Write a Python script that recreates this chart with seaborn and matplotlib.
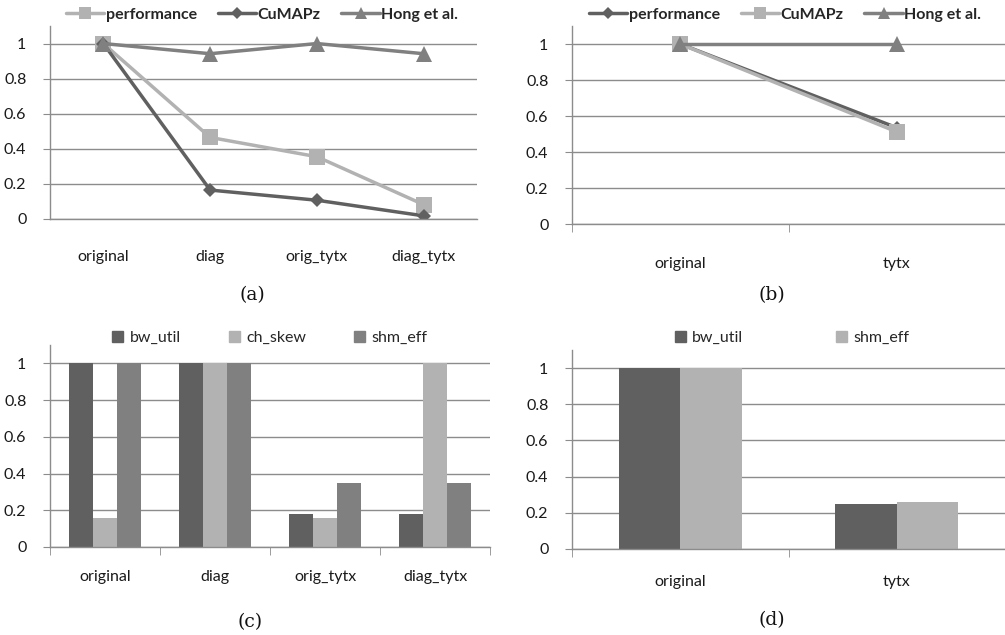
import pandas as pd
import seaborn as sns
import matplotlib.pyplot as plt
from matplotlib.lines import Line2D

# data
cats_a = ['original', 'diag', 'orig_tytx', 'diag_tytx']
perf_a = [1.0, 0.465, 0.355, 0.082]
cumapz_a = [1.0, 0.165, 0.107, 0.018]
hong_a = [1.0, 0.942, 1.0, 0.942]

cats_b = ['original', 'tytx']
perf_b = [1.0, 0.535]
cumapz_b = [1.0, 0.512]
hong_b = [1.0, 1.0]

cats_c = ['original', 'diag', 'orig_tytx', 'diag_tytx']
bw_util_c = [1.0, 1.0, 0.18, 0.18]
ch_skew_c = [0.16, 1.0, 0.16, 1.0]
shm_eff_c = [1.0, 1.0, 0.35, 0.35]

cats_d = ['original', 'tytx']
bw_util_d = [1.0, 0.25]
shm_eff_d = [1.0, 0.26]

DARK = '#606060'
LIGHT = '#b2b2b2'
MID = '#808080'
GRID = '#8c8c8c'
FS = 11.5

sns.set_style('white')
plt.rcParams['font.family'] = ['Lato', 'DejaVu Sans']

W, H = 1005, 635
fig = plt.figure(figsize=(W / 100, H / 100), dpi=100)


def px_axes(x0, y_top, x1, y_bot):
    return fig.add_axes([x0 / W, 1 - y_bot / H, (x1 - x0) / W, (y_bot - y_top) / H])


def style(ax):
    ax.set_ylim(0, 1.1)
    ax.set_yticks([0, 0.2, 0.4, 0.6, 0.8, 1])
    ax.set_yticklabels(['0', '0.2', '0.4', '0.6', '0.8', '1'])
    ax.yaxis.grid(True, color=GRID, linewidth=1)
    ax.set_axisbelow(True)
    for s in ['top', 'right']:
        ax.spines[s].set_visible(False)
    for s in ['left', 'bottom']:
        ax.spines[s].set_color(GRID)
        ax.spines[s].set_linewidth(1)
    ax.tick_params(axis='y', left=True, length=5, color=GRID, labelsize=FS, pad=12, labelcolor='#1a1a1a')
    ax.tick_params(axis='x', bottom=False, labelsize=FS, labelcolor='#1a1a1a')
    ax.set_xlabel('')
    ax.set_ylabel('')


def cat_ticks(ax, n):
    ax.set_xticks([i - 0.5 for i in range(n + 1)], minor=True)
    ax.tick_params(axis='x', which='minor', bottom=True, length=6, color=GRID)


def line_panel(ax, cats, series):
    for name, vals, color, marker, ms in series:
        sns.lineplot(x=cats, y=vals, ax=ax, color=color, marker=marker, markersize=ms,
                     linewidth=2.5, markeredgewidth=0, sort=False, label=name)
    ax.get_legend().remove()


def bar_panel(ax, cats, series, width):
    rows = []
    for name, vals, color in series:
        for c, v in zip(cats, vals):
            rows.append({'cat': c, 'metric': name, 'value': v})
    df = pd.DataFrame(rows)
    sns.barplot(data=df, x='cat', y='value', hue='metric', ax=ax, order=cats,
                palette=[s[2] for s in series], width=width, gap=0, saturation=1,
                edgecolor='none', linewidth=0)
    ax.get_legend().remove()


def line_legend(ax, series, cx, cy):
    handles = [Line2D([], [], color=c, marker=m, markersize=ms * 0.85, linewidth=2.5,
                      markeredgewidth=0) for _, _, c, m, ms in series]
    ax.legend(handles, [s[0] for s in series], loc='center', bbox_to_anchor=(cx / W, 1 - cy / H),
              bbox_transform=fig.transFigure, ncol=3, frameon=False, handlelength=2.4,
              handletextpad=0.1, columnspacing=1.3, prop={'weight': 'bold', 'size': FS})


def bar_legend(ax, series, cx, cy, colsp):
    handles = [plt.Rectangle((0, 0), 1, 1, color=c) for _, _, c in series]
    ax.legend(handles, [s[0] for s in series], loc='center', bbox_to_anchor=(cx / W, 1 - cy / H),
              bbox_transform=fig.transFigure, ncol=len(series), frameon=False, handlelength=0.7,
              handleheight=0.7, handletextpad=0.4, columnspacing=colsp, prop={'size': FS})


# (a)
ax_a = px_axes(50, 26, 477, 219)
series_a = [('performance', perf_a, LIGHT, 's', 11),
            ('CuMAPz', cumapz_a, DARK, 'D', 7),
            ('Hong et al.', hong_a, MID, '^', 11)]
line_panel(ax_a, cats_a, series_a)
style(ax_a)
ax_a.tick_params(axis='x', pad=19)
ax_a.set_xlim(-0.5, 3.5)
line_legend(ax_a, series_a, 262, 15)

# (b)
ax_b = px_axes(572, 26, 1005, 224)
series_b = [('performance', perf_b, DARK, 'D', 7),
            ('CuMAPz', cumapz_b, LIGHT, 's', 11),
            ('Hong et al.', hong_b, MID, '^', 11)]
line_panel(ax_b, cats_b, series_b)
style(ax_b)
ax_b.tick_params(axis='x', pad=20)
ax_b.set_xlim(-0.5, -0.5 + 433 / 220.7)
cat_ticks(ax_b, 2)
line_legend(ax_b, series_b, 785, 15)

# (c)
ax_c = px_axes(50, 345, 490, 547)
series_c = [('bw_util', bw_util_c, DARK), ('ch_skew', ch_skew_c, LIGHT), ('shm_eff', shm_eff_c, MID)]
bar_panel(ax_c, cats_c, series_c, 0.655)
style(ax_c)
ax_c.set_xlim(-0.5, 3.5)
cat_ticks(ax_c, 4)
ax_c.tick_params(axis='x', pad=13)
bar_legend(ax_c, series_c, 270, 338, 3.0)

# (d)
ax_d = px_axes(572, 350, 1005, 549)
series_d = [('bw_util', bw_util_d, DARK), ('shm_eff', shm_eff_d, LIGHT)]
bar_panel(ax_d, cats_d, series_d, 0.567)
style(ax_d)
ax_d.set_xlim(-0.5, -0.5 + 433 / 218.7)
cat_ticks(ax_d, 2)
ax_d.tick_params(axis='x', pad=15)
bar_legend(ax_d, series_d, 792, 338, 5.8)

# captions
for label, x, y in [('(a)', 252, 295), ('(b)', 772, 295), ('(c)', 250, 622), ('(d)', 772, 620)]:
    fig.text(x / W, 1 - y / H, label, ha='center', va='center', fontsize=13.5,
             family=['DejaVu Serif'], color='#111111')

plt.savefig('out.png', dpi=100)
